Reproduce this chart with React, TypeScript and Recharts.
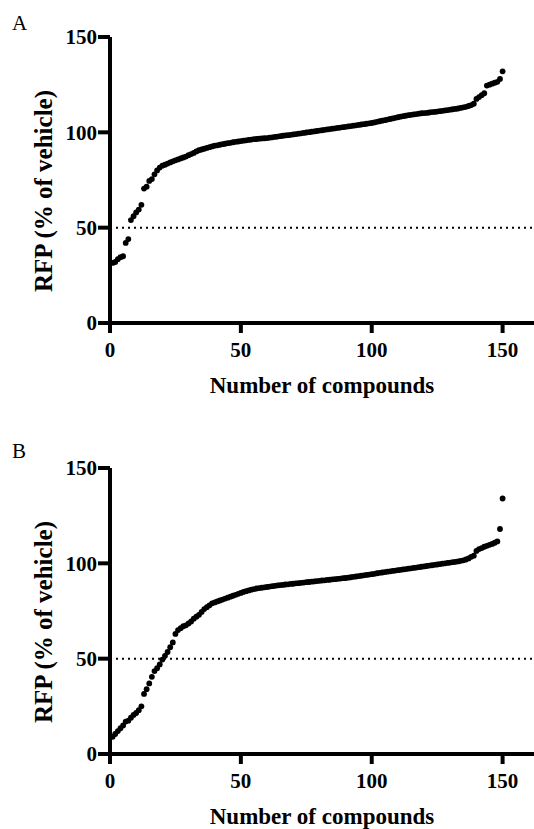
import React from 'react';
import { ScatterChart, Scatter, XAxis, YAxis, ReferenceLine } from 'recharts';

// Panel A: RFP (% of vehicle), sorted, compounds ranked 1..150
const panelAValues: number[] = [
  31.5, 32, 33.5, 34.5, 35, 42, 44, 54, 56, 58,
  59.5, 62, 70.5, 71.5, 74.5, 75.5, 78, 80, 81.5, 82.5,
  83, 83.6, 84.2, 84.8, 85.3, 85.8, 86.3, 86.8, 87.3, 88,
  88.6, 89.2, 90, 90.6, 91, 91.4, 91.8, 92.2, 92.6, 93,
  93.2, 93.5, 93.8, 94.0, 94.3, 94.5, 94.8, 95.0, 95.2, 95.4,
  95.6, 95.8, 96.0, 96.2, 96.4, 96.5, 96.7, 96.8, 96.9, 97.0,
  97.2, 97.4, 97.6, 97.8, 98.0, 98.2, 98.4, 98.5, 98.7, 98.9,
  99.1, 99.3, 99.5, 99.7, 99.9, 100.1, 100.3, 100.5, 100.7, 100.9,
  101.1, 101.3, 101.5, 101.7, 101.9, 102.1, 102.3, 102.5, 102.7, 102.9,
  103.1, 103.3, 103.5, 103.7, 103.9, 104.1, 104.3, 104.5, 104.7, 104.9,
  105.2, 105.5, 105.8, 106.1, 106.4, 106.7, 107.0, 107.3, 107.6, 107.9,
  108.2, 108.5, 108.7, 109.0, 109.2, 109.4, 109.6, 109.8, 110.0, 110.1,
  110.2, 110.4, 110.6, 110.7, 110.9, 111.1, 111.3, 111.5, 111.7, 111.9,
  112.1, 112.3, 112.5, 112.8, 113.1, 113.4, 113.8, 114.3, 115.0, 117.5,
  118.5, 119.5, 120.5, 124.5, 125, 125.5, 126, 126.5, 128, 132,
];

// Panel B
const panelBValues: number[] = [
  9, 10.5, 12, 13.5, 15, 17, 17.5, 19, 20.5, 21.5,
  23, 25, 31.5, 34, 37, 40.5, 43.5, 45, 47, 49.5,
  51.5, 53.5, 56, 58.5, 63, 65, 66, 67, 67.5, 68.5,
  69.5, 71, 72, 73, 74.5, 76, 77, 78, 79, 79.5,
  80, 80.5, 81, 81.5, 82, 82.5, 83, 83.5, 84, 84.5,
  85, 85.4, 85.8, 86.2, 86.5, 86.8, 87, 87.2, 87.4, 87.6,
  87.8, 88.0, 88.2, 88.4, 88.6, 88.7, 88.9, 89.0, 89.2, 89.3,
  89.5, 89.6, 89.8, 89.9, 90.1, 90.2, 90.4, 90.5, 90.7, 90.8,
  91.0, 91.1, 91.3, 91.4, 91.6, 91.7, 91.9, 92.0, 92.2, 92.3,
  92.5, 92.7, 92.9, 93.1, 93.3, 93.5, 93.7, 93.9, 94.1, 94.3,
  94.5, 94.8, 95.0, 95.2, 95.4, 95.6, 95.8, 96.0, 96.2, 96.4,
  96.6, 96.8, 97.0, 97.2, 97.4, 97.6, 97.8, 98.0, 98.2, 98.4,
  98.6, 98.8, 99.0, 99.2, 99.4, 99.6, 99.8, 100.0, 100.2, 100.4,
  100.6, 100.8, 101.0, 101.3, 101.6, 102.0, 102.6, 103.4, 104.0, 106.5,
  107.5, 108.0, 108.7, 109.2, 109.7, 110.2, 110.8, 111.5, 118, 134,
];

const xTicks: number[] = [0, 50, 100, 150];
const yTicks: number[] = [0, 50, 100, 150];
const threshold = 50;
const xLabel = 'Number of compounds';
const yLabel = 'RFP (% of vehicle)';

const FONT = '"Liberation Serif", "Times New Roman", serif';

const toPoints = (vals: number[]) => vals.map((v, i) => ({ rank: i + 1, rfp: v }));

const Dot = (props: any) => {
  const { cx, cy } = props;
  if (cx == null || cy == null) return null;
  return <circle cx={cx} cy={cy} r={2.9} fill="#000" />;
};

const tickStyle = { fontFamily: FONT, fontWeight: 'bold', fontSize: 21, fill: '#000' };
const lineStyle = { stroke: '#000', strokeWidth: 4 };

const XLabelContent = (props: any) => {
  const vb = props.viewBox || {};
  return (
    <text
      x={vb.x + vb.width / 2}
      y={vb.y + 70}
      textAnchor="middle"
      fontFamily={FONT}
      fontWeight="bold"
      fontSize={23}
      fill="#000"
    >
      {xLabel}
    </text>
  );
};

const YLabelContent = (props: any) => {
  const vb = props.viewBox || {};
  const cx = 43;
  const cy = vb.y + vb.height / 2 + 11;
  return (
    <text
      x={cx}
      y={cy}
      transform={`rotate(-90, ${cx}, ${cy})`}
      textAnchor="middle"
      dominantBaseline="central"
      fontFamily={FONT}
      fontWeight="bold"
      fontSize={25}
      fill="#000"
    >
      {yLabel}
    </text>
  );
};

const Panel = ({ values }: { values: number[] }) => (
  <ScatterChart width={534} height={400} margin={{ top: 37, right: 0, left: 0, bottom: 0 }}>
    <XAxis
      type="number"
      dataKey="rank"
      domain={[0, 162]}
      ticks={xTicks}
      allowDataOverflow
      height={77}
      tick={tickStyle}
      tickSize={10}
      tickMargin={9}
      axisLine={lineStyle}
      tickLine={lineStyle}
      label={{ content: XLabelContent } as any}
    />
    <YAxis
      type="number"
      dataKey="rfp"
      domain={[0, 150]}
      ticks={yTicks}
      width={110}
      tick={tickStyle}
      tickSize={12}
      tickMargin={1}
      axisLine={lineStyle}
      tickLine={lineStyle}
      label={{ content: YLabelContent } as any}
    />
    <ReferenceLine y={threshold} stroke="#000" strokeWidth={2} strokeDasharray="2 4" />
    <Scatter data={toPoints(values)} shape={Dot} isAnimationActive={false} />
  </ScatterChart>
);

const letterStyle: React.CSSProperties = {
  position: 'absolute',
  left: 12,
  fontFamily: FONT,
  fontSize: 21,
  lineHeight: '21px',
  color: '#000',
};

export default function App() {
  return (
    <div style={{ position: 'absolute', left: 0, top: 0, width: 534, height: 829, background: '#fff', overflow: 'hidden' }}>
      <div style={{ position: 'absolute', left: 0, top: 0 }}>
        <Panel values={panelAValues} />
      </div>
      <div style={{ position: 'absolute', left: 0, top: 431 }}>
        <Panel values={panelBValues} />
      </div>
      <div style={{ ...letterStyle, top: 13 }}>A</div>
      <div style={{ ...letterStyle, top: 441 }}>B</div>
    </div>
  );
}
